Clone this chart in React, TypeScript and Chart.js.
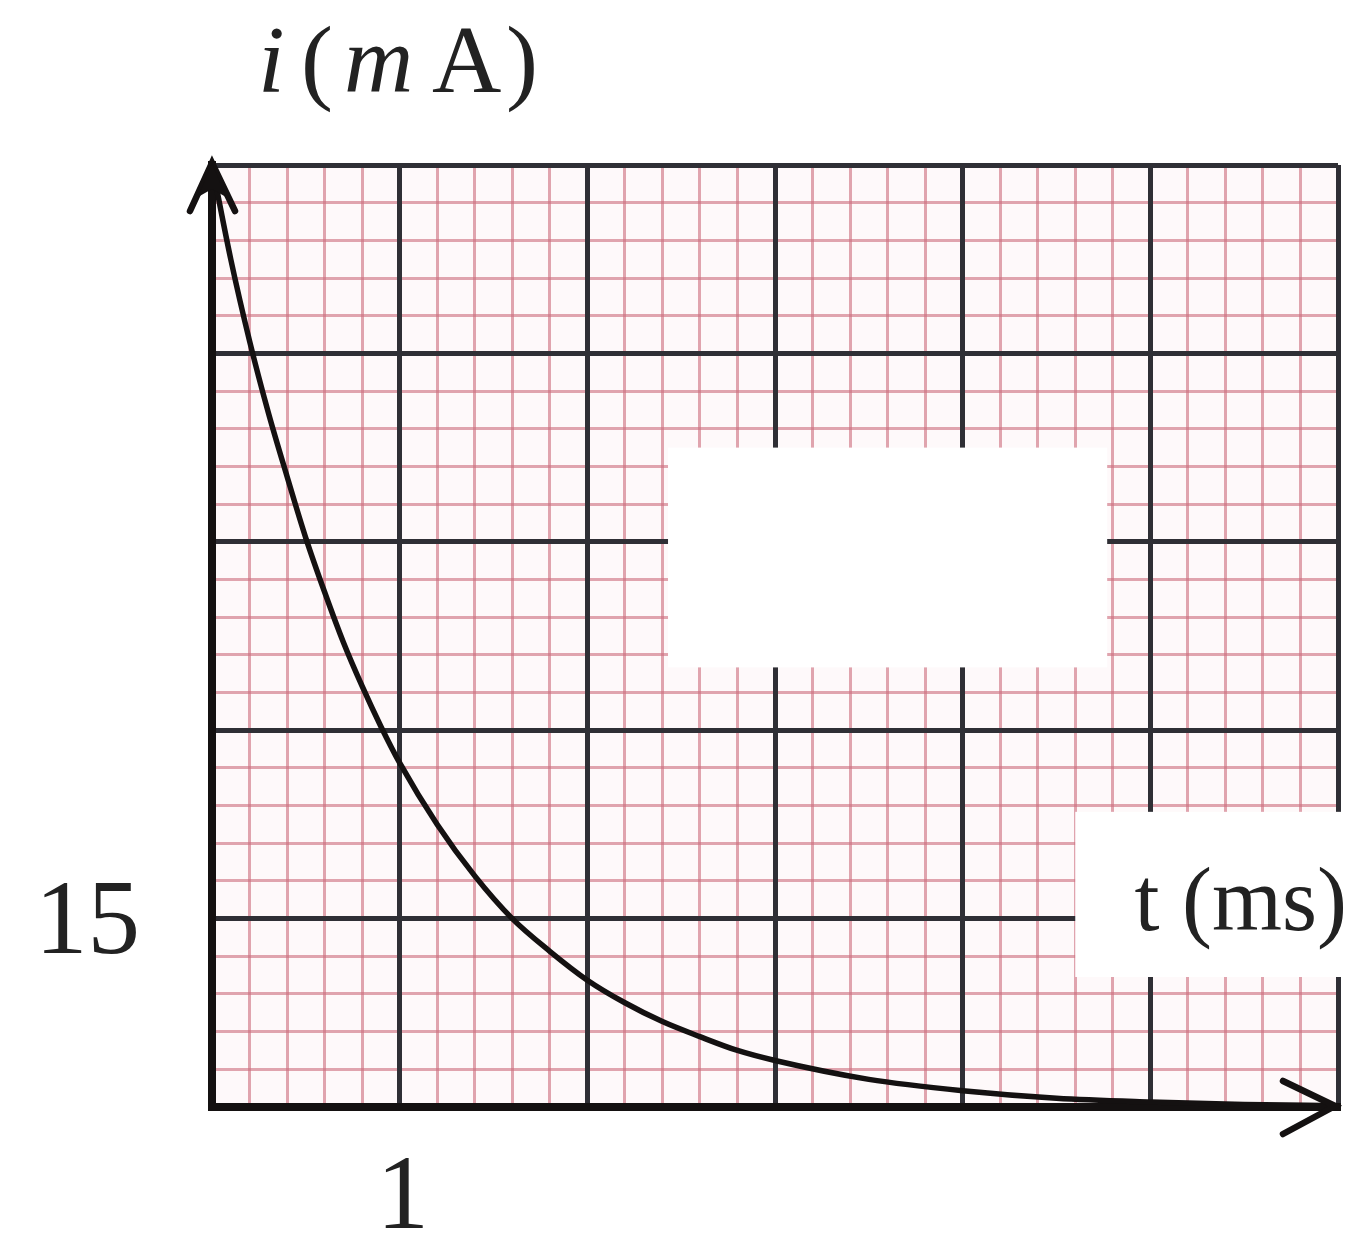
import React, { useEffect, useRef } from "react";
import { Chart, registerables } from "chart.js";

Chart.register(...registerables);

// Discharge current i (mA) against time t (ms)
const timeMs = [0, 0.1, 0.2, 0.3, 0.4, 0.5, 0.6, 0.7, 0.8, 0.9, 1.0, 1.2, 1.4, 1.6, 1.8, 2.0, 2.2, 2.4, 2.6, 2.8, 3.0, 3.5, 4.0, 4.5, 5.0, 5.5, 6.0];
const currentMa = [75, 67.5, 61, 55.3, 50.2, 45.3, 41, 37, 33.5, 30.3, 27.4, 22.5, 18.4, 15.0, 12.4, 10.1, 8.3, 6.8, 5.6, 4.5, 3.7, 2.2, 1.3, 0.7, 0.4, 0.2, 0.1];

// Axis ranges and grid steps
const timeRange = [0, 6];
const currentRange = [0, 75];
const timeMajorStep = 1;
const timeMinorStep = 0.2;
const currentMajorStep = 15;
const currentMinorStep = 3;

// The only numbered ticks
const labeledTimeTicks = [1];
const labeledCurrentTicks = [15];

// Axis captions
const timeAxisTitle = "t (ms)";
const currentSymbol = "i";
const currentUnitPrefix = "m";
const currentUnit = "A";

// Blank panels on the paper, in data units: [t0, t1, i0, i1]
const blankPanels = [
  [2.43, 4.77, 35.0, 52.5],
  [4.6, 6.05, 10.35, 23.5],
];

const SERIF = "'Liberation Serif', 'DejaVu Serif', serif";
const MAJOR = "#2f2f35";
const MINOR = "rgba(205, 112, 128, 0.62)";
const INK = "#141111";

const paperPlugin = {
  id: "paper",
  beforeDraw(chart: any) {
    const { ctx, chartArea: a } = chart;
    ctx.save();
    ctx.fillStyle = "#fef9fa";
    ctx.fillRect(a.left, a.top, a.right - a.left, a.bottom - a.top);
    ctx.restore();
  },
  beforeDatasetsDraw(chart: any) {
    const { ctx } = chart;
    const xs = chart.scales.x;
    const ys = chart.scales.y;
    ctx.save();
    ctx.fillStyle = "#ffffff";
    for (const [t0, t1, i0, i1] of blankPanels) {
      const x0 = xs.getPixelForValue(t0);
      const x1 = xs.getPixelForValue(t1);
      const y0 = ys.getPixelForValue(i1);
      const y1 = ys.getPixelForValue(i0);
      ctx.fillRect(x0, y0, x1 - x0, y1 - y0);
    }
    ctx.restore();
  },
  afterDraw(chart: any) {
    const { ctx } = chart;
    const xs = chart.scales.x;
    const ys = chart.scales.y;
    const ox = xs.getPixelForValue(timeRange[0]);
    const oy = ys.getPixelForValue(currentRange[0]);
    const top = ys.getPixelForValue(currentRange[1]);
    const right = xs.getPixelForValue(timeRange[1]);

    ctx.save();
    ctx.strokeStyle = INK;
    ctx.fillStyle = INK;
    ctx.lineWidth = 6.5;
    ctx.lineCap = "round";
    ctx.lineJoin = "miter";

    // arrowhead on the current axis
    ctx.beginPath();
    ctx.moveTo(ox - 22, top + 46);
    ctx.lineTo(ox, top - 2);
    ctx.lineTo(ox + 23, top + 46);
    ctx.stroke();
    ctx.beginPath();
    ctx.moveTo(ox, top - 2);
    ctx.lineTo(ox - 14, top + 32);
    ctx.lineTo(ox, top + 24);
    ctx.lineTo(ox + 14, top + 32);
    ctx.closePath();
    ctx.fill();

    // arrowhead on the time axis
    ctx.beginPath();
    ctx.moveTo(right - 55, oy - 26);
    ctx.lineTo(right - 3, oy - 1);
    ctx.lineTo(right - 55, oy + 27);
    ctx.stroke();

    // tick numbers
    ctx.fillStyle = "#222";
    ctx.font = `105px ${SERIF}`;
    ctx.textBaseline = "alphabetic";
    ctx.textAlign = "right";
    for (const v of labeledCurrentTicks) {
      ctx.fillText(String(v), ox - 72, ys.getPixelForValue(v) + 34);
    }
    ctx.textAlign = "center";
    for (const v of labeledTimeTicks) {
      ctx.fillText(String(v), xs.getPixelForValue(v) + 3, oy + 121);
    }

    // time axis caption
    ctx.font = `90px ${SERIF}`;
    ctx.textAlign = "right";
    ctx.fillText(timeAxisTitle, right + 9, ys.getPixelForValue(15) + 11);

    // current axis caption: i (mA)
    ctx.textAlign = "left";
    const base = top - 73;
    ctx.font = `italic 96px ${SERIF}`;
    ctx.fillText(currentSymbol, ox + 46, base);
    ctx.font = `96px ${SERIF}`;
    ctx.fillText("(", ox + 89, base);
    ctx.font = `italic 96px ${SERIF}`;
    ctx.fillText(currentUnitPrefix, ox + 132, base);
    ctx.font = `96px ${SERIF}`;
    ctx.fillText(currentUnit, ox + 220, base);
    ctx.fillText(")", ox + 294, base);
    ctx.restore();
  },
};

function gridScale(axis: "x" | "y", range: number[], step: number, color: string, width: number, z: number, border: boolean) {
  return {
    type: "linear",
    axis,
    position: axis === "x" ? "bottom" : "left",
    min: range[0],
    max: range[1],
    ticks: { display: false, stepSize: step, autoSkip: false },
    grid: { color, lineWidth: width, drawTicks: false, z },
    border: border
      ? { display: true, color: INK, width: 8, z: 0 }
      : { display: false },
  };
}

export default function App() {
  const canvasRef = useRef<HTMLCanvasElement | null>(null);

  useEffect(() => {
    const canvas = canvasRef.current;
    if (!canvas) return;
    const chart = new Chart(canvas, {
      type: "line",
      data: {
        datasets: [
          {
            data: timeMs.map((t, k) => ({ x: t, y: currentMa[k] })),
            borderColor: INK,
            borderWidth: 5.5,
            pointRadius: 0,
            fill: false,
            cubicInterpolationMode: "monotone",
            xAxisID: "x",
            yAxisID: "y",
          },
        ],
      },
      options: {
        responsive: false,
        animation: false,
        layout: { padding: { left: 212, top: 165, right: 31, bottom: 137 } },
        plugins: { legend: { display: false }, tooltip: { enabled: false } },
        scales: {
          xMinor: gridScale("x", timeRange, timeMinorStep, MINOR, 3, -3, false),
          yMinor: gridScale("y", currentRange, currentMinorStep, MINOR, 3, -3, false),
          x: gridScale("x", timeRange, timeMajorStep, MAJOR, 5, -2, true),
          y: gridScale("y", currentRange, currentMajorStep, MAJOR, 5, -2, true),
        } as any,
      },
      plugins: [paperPlugin],
    } as any);
    return () => chart.destroy();
  }, []);

  return (
    <div style={{ position: "absolute", left: 0, top: 0, width: 1369, height: 1244, background: "#fff" }}>
      <canvas ref={canvasRef} width={1369} height={1244} />
    </div>
  );
}
